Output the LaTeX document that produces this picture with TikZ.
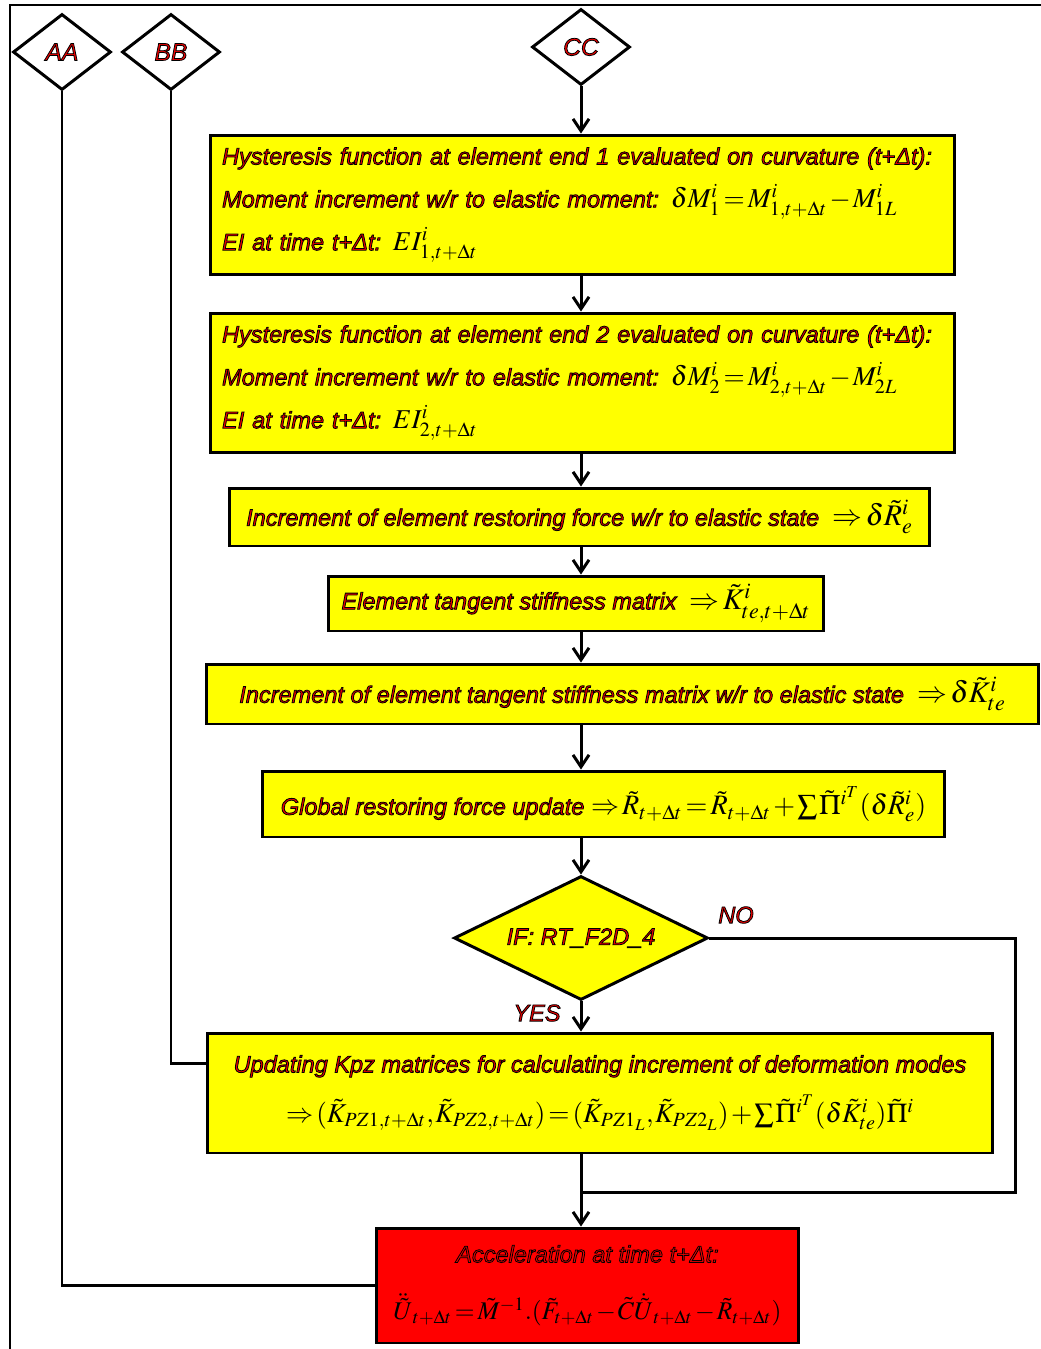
\documentclass[tikz,border=0pt]{standalone}
\usepackage{mathptmx}
\usepackage{fontspec}
\setmainfont{Liberation Sans}
\newfontfamily\flowfont{Liberation Sans}
\usetikzlibrary{arrows.meta,positioning,shapes.geometric}
\definecolor{boxyellow}{RGB}{255,255,0}
\definecolor{boxred}{RGB}{255,0,0}
\definecolor{labelred}{RGB}{235,0,0}
% red letters with a black rim
\newcommand{\outl}[1]{\special{pdf:literal direct 2 Tr 0.45 w 0 0 0 RG}#1\special{pdf:literal direct 0 Tr}}
\newcommand{\mth}[2][17]{{\color{black}\fontsize{#1}{20}\selectfont
  \thinmuskip=1mu\medmuskip=1.5mu\thickmuskip=2mu$#2$}}
\tikzset{
  procbox/.style={rectangle,draw=black,fill=boxyellow,line width=1.7pt,inner sep=0pt,
                  text=labelred,font=\flowfont\itshape\fontsize{13.4}{24.4}\selectfont},
  endbox/.style={procbox,fill=boxred},
  decide/.style={diamond,aspect=2.05,draw=black,fill=boxyellow,line width=1.7pt,inner sep=0pt,
                 text=labelred,font=\flowfont\itshape\fontsize{13.4}{15}\selectfont},
  connector/.style={diamond,aspect=1.29,draw=black,fill=white,line width=1.7pt,inner sep=0pt,
                 minimum width=1.96cm,minimum height=1.52cm,
                 text=labelred,font=\flowfont\itshape\fontsize{14}{15}\selectfont},
  flowlabel/.style={text=labelred,inner sep=1pt,font=\flowfont\itshape\fontsize{13.4}{15}\selectfont},
  flow/.style={-{Straight Barb[length=2.4mm,width=3.2mm]},draw=black,line width=1.7pt},
  link/.style={draw=black,line width=1.7pt},
  frameline/.style={draw=black,line width=0.9pt},
}
\begin{document}
\begin{tikzpicture}[x=0.02cm,y=-0.02cm]
  \useasboundingbox (0,0) rectangle (1041,1349);
  \draw[frameline] (10,1349) -- (10,5) -- (1041,5);
  % ---------------- entry connectors ----------------
  \node[connector] (connAA) at (62,52)  {\outl{AA}};
  \node[connector] (connBB) at (171,52) {\outl{BB}};
  \node[connector] (connCC) at (581,47) {\outl{CC}};
  % ---------------- hysteresis at element ends ----------------
  \node[procbox,align=left,text width=14.42cm,minimum width=14.9cm,minimum height=2.8cm]
    (hystEndOne) at (582.5,205)
    {\outl{Hysteresis function at element end 1 evaluated on curvature (t+Δt):}\\
     \outl{Moment increment w/r to elastic moment:} \mth[15.5]{\delta M_1^i = M^i_{1,t+\Delta t} - M^i_{1L}}\\
     \outl{EI at time t+Δt:} \mth[15.5]{EI^i_{1,t+\Delta t}}};
  \node[procbox,align=left,text width=14.42cm,minimum width=14.9cm,minimum height=2.8cm]
    (hystEndTwo) at (582.5,383)
    {\outl{Hysteresis function at element end 2 evaluated on curvature (t+Δt):}\\
     \outl{Moment increment w/r to elastic moment:} \mth[15.5]{\delta M_2^i = M^i_{2,t+\Delta t} - M^i_{2L}}\\
     \outl{EI at time t+Δt:} \mth[15.5]{EI^i_{2,t+\Delta t}}};
  % ---------------- element level ----------------
  \node[procbox,minimum width=14.02cm,minimum height=1.16cm] (incRestForce) at (579.5,517)
    {\outl{Increment of element restoring force w/r to elastic state}\ \ \mth{\Rightarrow\delta\tilde{R}^i_e}};
  \node[procbox,minimum width=9.92cm,minimum height=1.1cm] (tangStiff) at (576,603.5)
    {\outl{Element tangent stiffness matrix}\ \ \mth{\Rightarrow\tilde{K}^i_{te,t+\Delta t}}};
  \node[procbox,minimum width=16.66cm,minimum height=1.2cm] (incTangStiff) at (622.5,694)
    {\outl{Increment of element tangent stiffness matrix w/r to elastic state}\ \ \mth{\Rightarrow\delta\tilde{K}^i_{te}}};
  % ---------------- global level ----------------
  \node[procbox,minimum width=13.66cm,minimum height=1.32cm] (globRestForce) at (603.5,804)
    {\outl{Global restoring force update}\ \mth[16]{\Rightarrow\tilde{R}_{t+\Delta t}=\tilde{R}_{t+\Delta t}+\sum\tilde{\Pi}^{i^T}(\delta\tilde{R}^i_e)}};
  \node[decide,minimum width=5.08cm,minimum height=2.48cm] (ifCheck) at (581,938)
    {\outl{IF: RT\_F2D\_4}};
  \node[flowlabel] (labelNo)  at (736,915)  {\outl{NO}};
  \node[flowlabel] (labelYes) at (537,1013) {\outl{YES}};
  \node[procbox,align=center,minimum width=15.72cm,minimum height=2.4cm] (updKpz) at (600,1093)
    {\outl{Updating Kpz matrices for calculating increment of deformation modes}\\[4pt]
     \mth[15.5]{\Rightarrow(\tilde{K}_{PZ1,t+\Delta t},\tilde{K}_{PZ2,t+\Delta t})=(\tilde{K}_{PZ1_L},\tilde{K}_{PZ2_L})+\sum\tilde{\Pi}^{i^T}(\delta\tilde{K}^i_{te})\tilde{\Pi}^i}};
  \node[endbox,align=center,minimum width=8.46cm,minimum height=2.3cm] (accel) at (587.5,1285.5)
    {\outl{Acceleration at time t+Δt:}\\[8pt]
     \mth[14.5]{\ddot{\tilde{U}}_{t+\Delta t}=\tilde{M}^{-1}.(\tilde{F}_{t+\Delta t}-\tilde{C}\dot{\tilde{U}}_{t+\Delta t}-\tilde{R}_{t+\Delta t})}};
  % ---------------- main flow ----------------
  \draw[flow] (connCC.south) -- (hystEndOne.north -| connCC);
  \draw[flow] (hystEndOne.south -| connCC) -- (hystEndTwo.north -| connCC);
  \draw[flow] (hystEndTwo.south -| connCC) -- (incRestForce.north -| connCC);
  \draw[flow] (incRestForce.south -| connCC) -- (tangStiff.north -| connCC);
  \draw[flow] (tangStiff.south -| connCC) -- (incTangStiff.north -| connCC);
  \draw[flow] (incTangStiff.south -| connCC) -- (globRestForce.north -| connCC);
  \draw[flow] (globRestForce.south -| connCC) -- (ifCheck.north);
  \draw[flow] (ifCheck.south) -- (updKpz.north -| ifCheck);
  \draw[flow] (updKpz.south -| ifCheck) -- (accel.north -| ifCheck);
  % ---------------- side branches ----------------
  \coordinate (noCorner) at (1015,1192);
  \draw[link] (ifCheck.east) -| (noCorner) -- (noCorner -| ifCheck);
  \draw[link] (connBB.south) |- ([yshift=-0.64cm]updKpz.north west);
  \draw[link] (connAA.south) |- (accel.west);
\end{tikzpicture}
\end{document}
